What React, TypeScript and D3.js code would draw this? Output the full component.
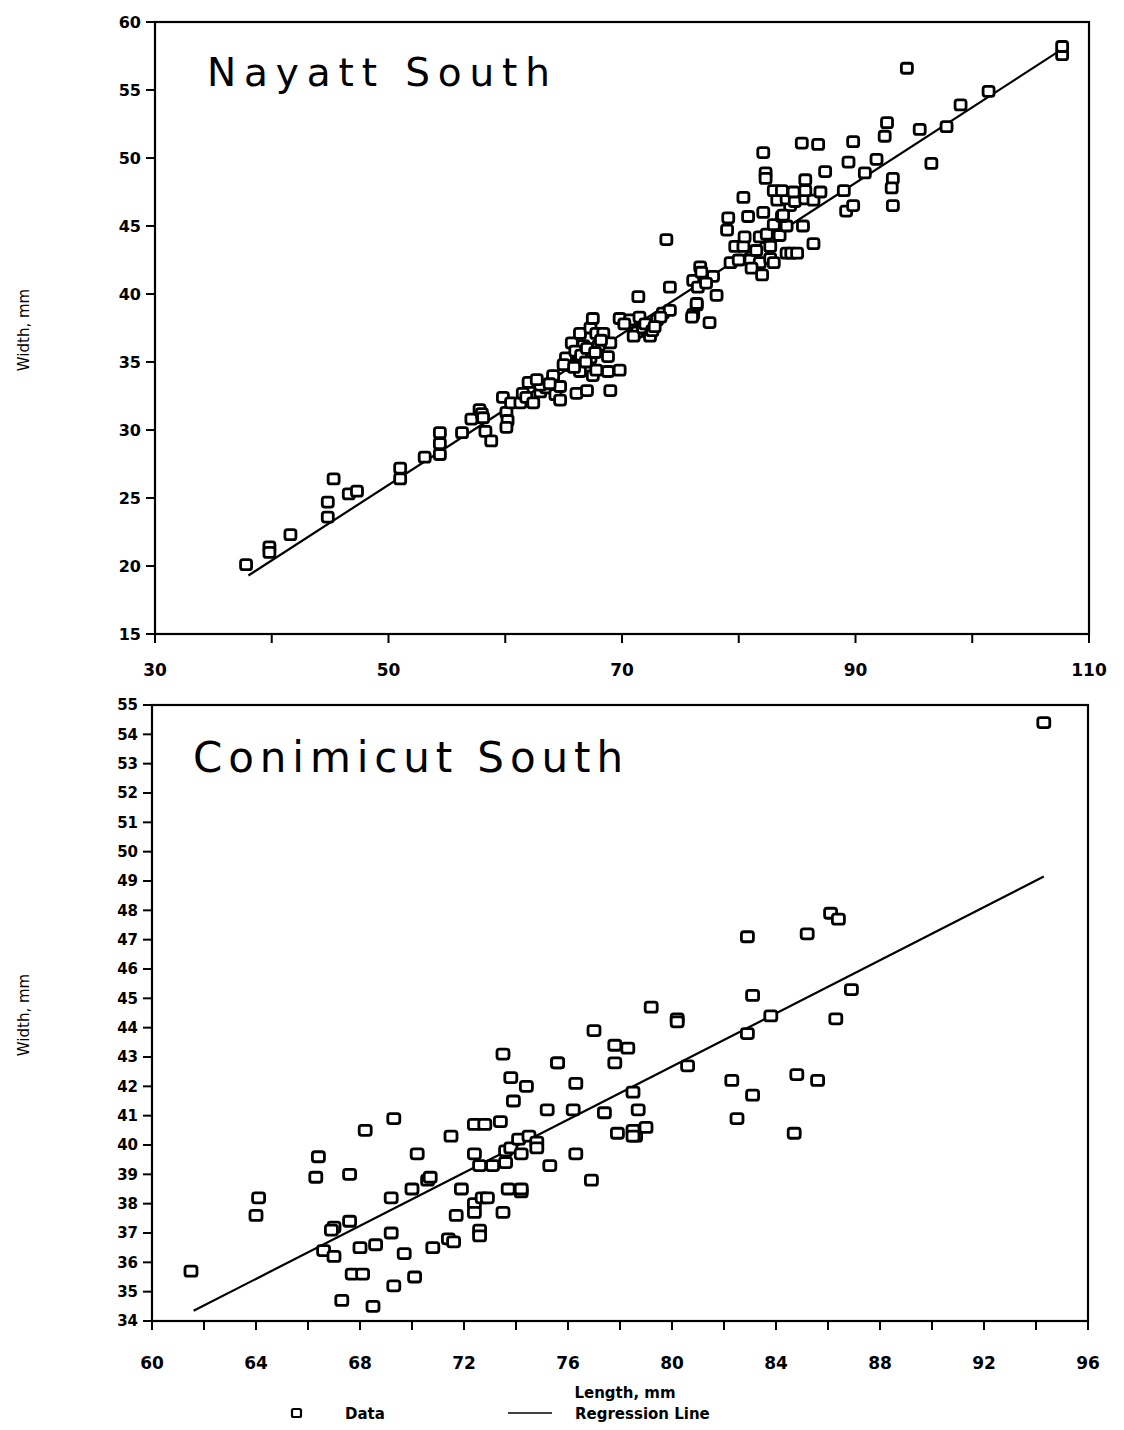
import React from "react";
import * as d3 from "d3";

// ---------- Data ----------
const nayattLength = [
  37.8, 39.8, 39.8, 41.6, 44.8, 44.8, 45.3, 46.6, 47.3, 51.0, 51.0, 53.1, 54.4, 54.4, 54.4, 56.3, 57.1, 57.8, 58.0, 58.1,
  58.3, 58.8, 59.8, 60.1, 60.2, 60.1, 60.5, 61.3, 61.5, 61.8, 62.0, 62.4, 63.0, 63.5, 64.1, 64.3, 64.7, 64.7, 64.1, 65.4,
  65.2, 65.7, 66.1, 66.4, 67.0, 67.3, 67.5, 67.8, 65.7, 66.4, 66.7, 67.3, 67.5, 67.8, 68.4, 69.0, 68.8, 68.8, 69.8, 69.0,
  69.8, 70.7, 71.3, 71.0, 71.8, 72.4, 73.0, 73.5, 74.1, 76.1, 76.4, 77.5, 71.4, 74.1, 73.8, 76.7, 77.8, 76.1, 76.5, 76.4,
  76.0, 78.1, 79.3, 80.0, 81.0, 81.8, 82.7, 83.0, 81.1, 82.0, 79.7, 80.4, 81.5, 82.7, 84.1, 84.5, 85.0, 86.4, 80.5, 81.8,
  82.4, 83.5, 83.0, 84.1, 85.5, 83.7, 79.0, 79.1, 80.8, 82.1, 84.4, 83.8, 80.4, 83.3, 84.1, 84.8, 85.7, 86.4, 83.0, 83.7,
  84.7, 85.7, 87.0, 89.0, 85.7, 82.3, 82.3, 87.4, 90.8, 93.2, 93.1, 93.2, 89.2, 89.8, 82.1, 89.4, 91.8, 96.5, 85.4, 86.8,
  89.8, 92.5, 92.7, 95.5, 97.8, 99.0, 101.4, 94.4, 107.7, 107.7, 63.0, 62.7, 65.0, 66.0, 66.5, 67.0, 68.0, 70.2, 71.5, 72.0,
  72.6, 73.3, 72.8, 63.8, 65.9, 66.9, 67.7, 68.2, 76.8, 77.2,
];
const nayattWidth = [
  20.1, 21.4, 21.0, 22.3, 23.6, 24.7, 26.4, 25.3, 25.5, 27.2, 26.4, 28.0, 28.2, 29.0, 29.8, 29.8, 30.8, 31.5, 31.2, 30.9,
  29.9, 29.2, 32.4, 31.3, 30.7, 30.2, 32.0, 32.0, 32.7, 32.4, 33.5, 32.0, 32.8, 33.1, 33.7, 32.6, 33.2, 32.2, 34.0, 35.0,
  35.3, 34.7, 32.7, 34.3, 32.9, 35.3, 34.0, 34.4, 36.4, 37.1, 36.2, 37.5, 38.2, 37.1, 37.1, 36.4, 35.4, 34.3, 34.4, 32.9,
  38.2, 38.1, 37.2, 36.9, 37.5, 36.9, 38.1, 38.6, 38.8, 38.5, 39.2, 37.9, 39.8, 40.5, 44.0, 42.0, 41.3, 41.0, 40.5, 39.3,
  38.3, 39.9, 42.3, 42.5, 42.5, 42.3, 42.6, 42.3, 41.9, 41.4, 43.5, 43.5, 43.2, 43.5, 43.0, 43.0, 43.0, 43.7, 44.2, 44.2,
  44.4, 44.3, 45.1, 45.0, 45.0, 45.7, 44.7, 45.6, 45.7, 46.0, 46.5, 45.8, 47.1, 46.9, 47.0, 46.8, 47.0, 46.9, 47.6, 47.6,
  47.5, 47.6, 47.5, 47.6, 48.4, 48.9, 48.5, 49.0, 48.9, 48.5, 47.8, 46.5, 46.1, 46.5, 50.4, 49.7, 49.9, 49.6, 51.1, 51.0,
  51.2, 51.6, 52.6, 52.1, 52.3, 53.9, 54.9, 56.6, 57.6, 58.2, 33.3, 33.7, 34.8, 35.8, 35.5, 36.0, 36.2, 37.8, 38.3, 37.8,
  37.3, 38.3, 37.6, 33.4, 34.6, 35.0, 35.7, 36.6, 41.6, 40.8,
];
const nayattRegLength = [38.0, 107.7];
const nayattRegWidth = [19.3, 58.0];

const conimicutLength = [
  61.5, 64.0, 64.1, 66.3, 66.4, 67.0, 66.9, 66.6, 67.0, 67.3, 67.6, 67.6, 67.7, 68.1, 68.0, 68.6, 68.2, 68.5, 69.2, 69.2,
  69.3, 69.3, 69.7, 70.0, 70.1, 70.2, 70.6, 70.7, 70.8, 71.4, 71.6, 71.5, 71.7, 71.9, 72.4, 72.8, 73.4, 72.4, 72.6, 72.4,
  72.4, 72.6, 72.6, 72.7, 72.9, 73.1, 73.5, 73.5, 73.6, 73.6, 73.7, 73.8, 73.9, 73.8, 74.1, 74.2, 74.2, 74.2, 74.4, 74.5,
  74.8, 74.8, 75.3, 75.2, 75.6, 75.6, 76.2, 76.3, 76.3, 77.0, 76.9, 77.4, 77.8, 78.3, 77.8, 77.9, 78.5, 78.6, 78.6, 78.7,
  79.2, 80.2, 80.2, 86.3, 78.5, 78.5, 79.0, 80.6, 82.3, 83.1, 82.5, 82.9, 83.8, 84.8, 85.6, 84.7, 94.3, 82.9, 85.2, 86.1,
  86.4, 86.9, 83.1,
];
const conimicutWidth = [
  35.7, 37.6, 38.2, 38.9, 39.6, 37.2, 37.1, 36.4, 36.2, 34.7, 37.4, 39.0, 35.6, 35.6, 36.5, 36.6, 40.5, 34.5, 38.2, 37.0,
  40.9, 35.2, 36.3, 38.5, 35.5, 39.7, 38.8, 38.9, 36.5, 36.8, 36.7, 40.3, 37.6, 38.5, 40.7, 40.7, 40.8, 39.7, 39.3, 38.0,
  37.7, 37.1, 36.9, 38.2, 38.2, 39.3, 43.1, 37.7, 39.8, 39.4, 38.5, 42.3, 41.5, 39.9, 40.2, 39.7, 38.4, 38.5, 42.0, 40.3,
  40.1, 39.9, 39.3, 41.2, 42.8, 42.8, 41.2, 39.7, 42.1, 43.9, 38.8, 41.1, 43.4, 43.3, 42.8, 40.4, 41.8, 40.5, 40.3, 41.2,
  44.7, 44.3, 44.2, 44.3, 40.5, 40.3, 40.6, 42.7, 42.2, 41.7, 40.9, 43.8, 44.4, 42.4, 42.2, 40.4, 54.4, 47.1, 47.2, 47.9,
  47.7, 45.3, 45.1,
];
const conimicutRegLength = [61.6, 94.3];
const conimicutRegWidth = [34.35, 49.15];

const nayattYTicks = [15, 20, 25, 30, 35, 40, 45, 50, 55, 60];
const nayattXTicks = [30, 40, 50, 60, 70, 80, 90, 100, 110];
const nayattXLabels = [30, 50, 70, 90, 110];
const conimicutYTicks = d3.range(34, 56, 1);
const conimicutXTicks = d3.range(60, 97, 2);
const conimicutXLabels = [60, 64, 68, 72, 76, 80, 84, 88, 92, 96];

const FONT = "'DejaVu Sans', Verdana, sans-serif";

type PanelProps = {
  title: string;
  titleX: number;
  titleY: number;
  titleLen: number;
  titleSize: number;
  xs: number[];
  ys: number[];
  regX: number[];
  regY: number[];
  xDomain: [number, number];
  yDomain: [number, number];
  xRange: [number, number];
  yRange: [number, number];
  xTicks: number[];
  xLabels: number[];
  yTicks: number[];
  yLabelSize: number;
  xLabelSize: number;
  xLabelDy: number;
  ylabY: number;
  boxW: number;
  boxH: number;
};

function Panel(p: PanelProps) {
  const x = d3.scaleLinear().domain(p.xDomain).range(p.xRange);
  const y = d3.scaleLinear().domain(p.yDomain).range(p.yRange);
  const [x0, x1] = p.xRange;
  const [y0, y1] = p.yRange; // y0 bottom, y1 top
  const line = d3
    .line<number>()
    .x((_, i) => x(p.regX[i]))
    .y((_, i) => y(p.regY[i]));
  return (
    <g>
      <rect x={x0} y={y1} width={x1 - x0} height={y0 - y1} fill="none" stroke="#000" strokeWidth={2.2} />
      {p.yTicks.map((t) => (
        <g key={"yt" + t}>
          <line x1={x0 - 9} x2={x0} y1={y(t)} y2={y(t)} stroke="#000" strokeWidth={2} />
          <text
            x={x0 - 14}
            y={y(t)}
            dy="0.36em"
            textAnchor="end"
            fontFamily={FONT}
            fontWeight="bold"
            fontSize={p.yLabelSize}
          >
            {t}
          </text>
        </g>
      ))}
      {p.xTicks.map((t) => (
        <line key={"xt" + t} x1={x(t)} x2={x(t)} y1={y0} y2={y0 + 9} stroke="#000" strokeWidth={2} />
      ))}
      {p.xLabels.map((t) => (
        <text
          key={"xl" + t}
          x={x(t)}
          y={y0 + p.xLabelDy}
          textAnchor="middle"
          fontFamily={FONT}
          fontWeight="bold"
          fontSize={p.xLabelSize}
        >
          {t}
        </text>
      ))}
      <text
        x={p.titleX}
        y={p.titleY}
        fontFamily={FONT}
        fontSize={p.titleSize}
        textLength={p.titleLen}
        lengthAdjust="spacing"
      >
        {p.title}
      </text>
      <text
        transform={`translate(29,${p.ylabY}) rotate(-90)`}
        textAnchor="middle"
        fontFamily={FONT}
        fontSize={15}
      >
        Width, mm
      </text>
      <path d={line(p.regX) || ""} fill="none" stroke="#000" strokeWidth={2.2} />
      {p.xs.map((v, i) => (
        <rect
          key={"pt" + i}
          x={x(v) - p.boxW / 2}
          y={y(p.ys[i]) - p.boxH / 2}
          width={p.boxW}
          height={p.boxH}
          rx={2.5}
          fill="#fff"
          stroke="#000"
          strokeWidth={2.8}
        />
      ))}
    </g>
  );
}

export default function App() {
  return (
    <svg
      width={1124}
      height={1430}
      style={{ position: "absolute", left: 0, top: 0, background: "#fff" }}
    >
      <rect x={0} y={0} width={1124} height={1430} fill="#fff" />
      <Panel
        title="Nayatt South"
        titleX={207}
        titleY={86}
        titleLen={343}
        titleSize={39}
        xs={nayattLength}
        ys={nayattWidth}
        regX={nayattRegLength}
        regY={nayattRegWidth}
        xDomain={[30, 110]}
        yDomain={[15, 60]}
        xRange={[155, 1089]}
        yRange={[634, 22]}
        xTicks={nayattXTicks}
        xLabels={nayattXLabels}
        yTicks={nayattYTicks}
        yLabelSize={16}
        xLabelSize={17}
        xLabelDy={42}
        ylabY={330}
        boxW={11}
        boxH={10}
      />
      <Panel
        title="Conimicut South"
        titleX={193}
        titleY={772}
        titleLen={430}
        titleSize={42}
        xs={conimicutLength}
        ys={conimicutWidth}
        regX={conimicutRegLength}
        regY={conimicutRegWidth}
        xDomain={[60, 96]}
        yDomain={[34, 55]}
        xRange={[152, 1088]}
        yRange={[1321, 705]}
        xTicks={conimicutXTicks}
        xLabels={conimicutXLabels}
        yTicks={conimicutYTicks}
        yLabelSize={15}
        xLabelSize={17}
        xLabelDy={48}
        ylabY={1015}
        boxW={12}
        boxH={10}
      />
      <text x={625} y={1398} textAnchor="middle" fontFamily={FONT} fontWeight="bold" fontSize={15}>
        Length, mm
      </text>
      <rect x={292} y={1409} width={9} height={8} rx={1.5} fill="#fff" stroke="#000" strokeWidth={2.2} />
      <text x={345} y={1419} fontFamily={FONT} fontWeight="bold" fontSize={15}>
        Data
      </text>
      <line x1={508} x2={552} y1={1413} y2={1413} stroke="#000" strokeWidth={1.5} />
      <text x={575} y={1419} fontFamily={FONT} fontWeight="bold" fontSize={15}>
        Regression Line
      </text>
    </svg>
  );
}
